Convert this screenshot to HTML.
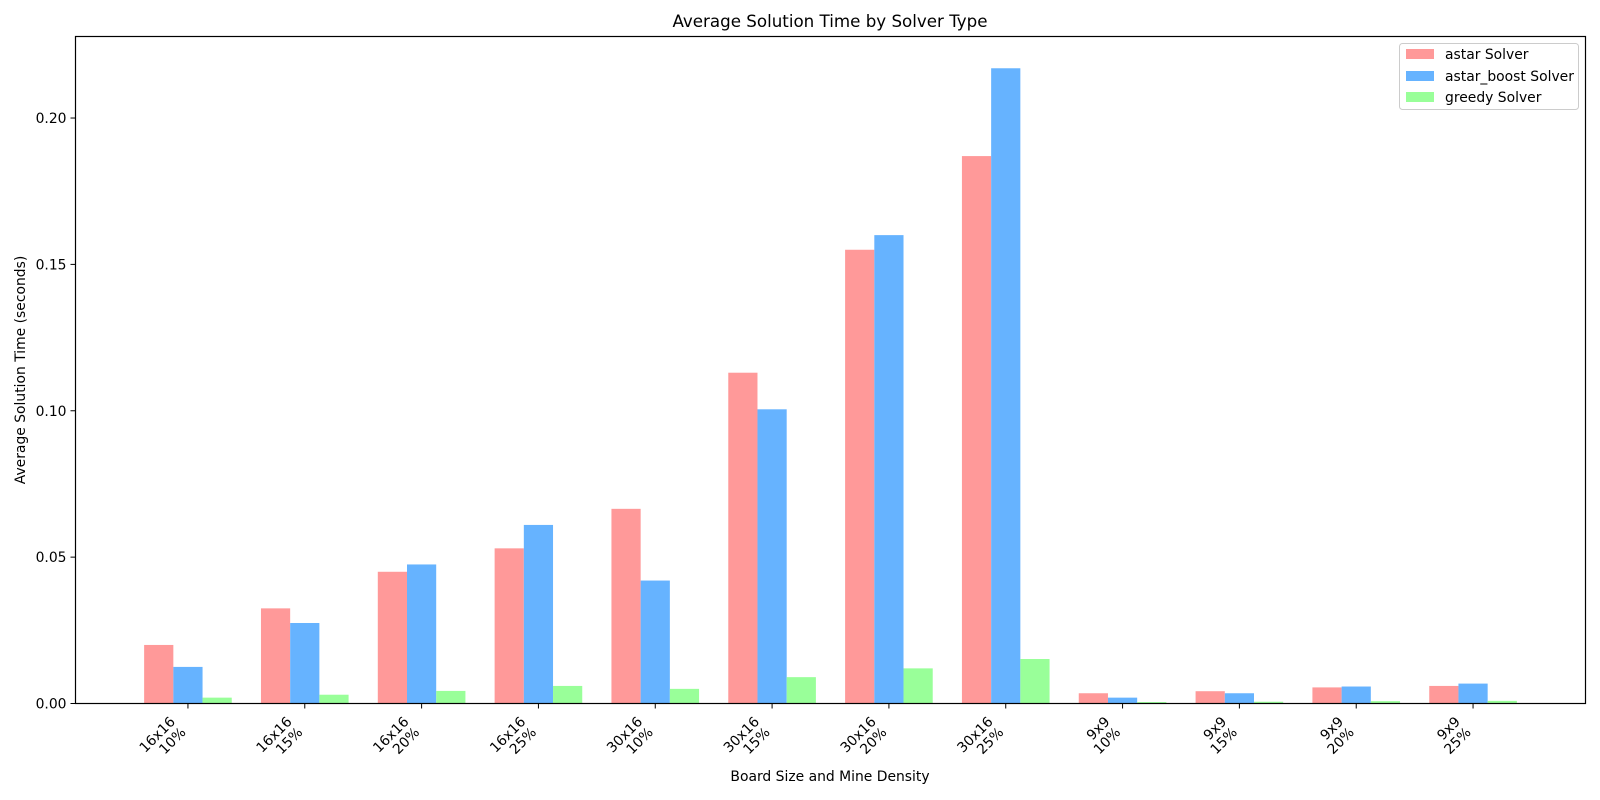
<!DOCTYPE html>
<html><head><meta charset="utf-8"><style>
body{margin:0;background:#fff;}
svg{display:block;font-family:"DejaVu Sans","Liberation Sans",sans-serif;}
</style></head><body>
<svg id="chart" width="1600" height="800" viewBox="0 0 1600 800">
<text x="830" y="27" font-size="16.7" text-anchor="middle">Average Solution Time by Solver Type</text>
<text x="830" y="781" font-size="13.9" text-anchor="middle">Board Size and Mine Density</text>
<text transform="translate(25,370) rotate(-90)" font-size="13.9" text-anchor="middle">Average Solution Time (seconds)</text>
<g id="bars"></g>
<g id="yticks"></g>
<g id="xticks"></g>
<rect x="75.5" y="36.5" width="1510" height="667" fill="none" stroke="#000" stroke-width="1.2"/>
<g>
<rect x="1399.5" y="43.5" width="179" height="66" rx="3" fill="#fff" fill-opacity="0.8" stroke="#ccc"/>
<g><rect x="1406" y="49" width="28" height="10" fill="#ff9999"/><text x="1445" y="59" font-size="13.9">astar Solver</text></g>
<g><rect x="1406" y="71" width="28" height="10" fill="#66b3ff"/><text x="1445" y="81" font-size="13.9">astar_boost Solver</text></g>
<g><rect x="1406" y="92" width="28" height="10" fill="#99ff99"/><text x="1445" y="102" font-size="13.9">greedy Solver</text></g>
</g>
</svg>
<script>
const sizes=["16x16","16x16","16x16","16x16","30x16","30x16","30x16","30x16","9x9","9x9","9x9","9x9"];
const densities=["10%","15%","20%","25%","10%","15%","20%","25%","10%","15%","20%","25%"];
const astar=[0.020,0.0325,0.045,0.053,0.0665,0.113,0.155,0.187,0.0035,0.0042,0.0055,0.006];
const astarBoost=[0.0125,0.0275,0.0475,0.061,0.042,0.1005,0.160,0.217,0.002,0.0035,0.0058,0.0068];
const greedy=[0.002,0.003,0.0043,0.006,0.005,0.009,0.012,0.0152,0.0005,0.0006,0.0008,0.0009];
const yTicks=[0,0.05,0.10,0.15,0.20];
const yTickLabels=["0.00","0.05","0.10","0.15","0.20"];

const NS="http://www.w3.org/2000/svg";
const L=75.5,R=1585.5,T=36.5,B=703.5;
const n=sizes.length;
const xmin=-0.375-0.05*(n-1+0.75), xmax=n-1+0.375+0.05*(n-1+0.75);
const ymax=Math.max(...astar,...astarBoost,...greedy)*1.05;
const xs=v=>L+(v-xmin)/(xmax-xmin)*(R-L);
const ys=v=>B-v/ymax*(B-T);
const bw=0.25;
function mk(tag,attrs,parent){const e=document.createElementNS(NS,tag);for(const k in attrs)e.setAttribute(k,attrs[k]);parent.appendChild(e);return e;}
const bars=document.getElementById('bars');
const series=[[astar,"#ff9999","astar"],[astarBoost,"#66b3ff","astar-boost"],[greedy,"#99ff99","greedy"]];
series.forEach(([vals,col,nm],s)=>{
  vals.forEach((v,i)=>{
    const x0=xs(i+(s-1)*bw-bw/2), x1=xs(i+(s-1)*bw+bw/2);
    const r=mk('rect',{x:x0,y:ys(v),width:x1-x0,height:B-ys(v),fill:col},bars);
    
    
  });
});
const yt=document.getElementById('yticks');
yTicks.forEach((v,i)=>{
  const y=ys(v);
  const g=mk('g',{},yt);
  
  
  mk('line',{x1:L-5,x2:L,y1:y,y2:y,stroke:'#000','stroke-width':1},g);
  const t=mk('text',{x:L-9,y:y+5,'font-size':13.9,'text-anchor':'end'},g);
  t.textContent=yTickLabels[i];
});
const xt=document.getElementById('xticks');
sizes.forEach((s,i)=>{
  const x=xs(i);
  const g=mk('g',{},xt);
  
  
  mk('line',{x1:x,x2:x,y1:B,y2:B+5,stroke:'#000','stroke-width':1},g);
  const t=mk('text',{transform:`translate(${x-12},${B+19}) rotate(-45)`,'font-size':13.9,'text-anchor':'end'},g);
  const a=mk('tspan',{x:0,y:0},t);a.textContent=s;
  const b=mk('tspan',{x:0,y:15},t);b.textContent=densities[i];
});
</script>
</body></html>
